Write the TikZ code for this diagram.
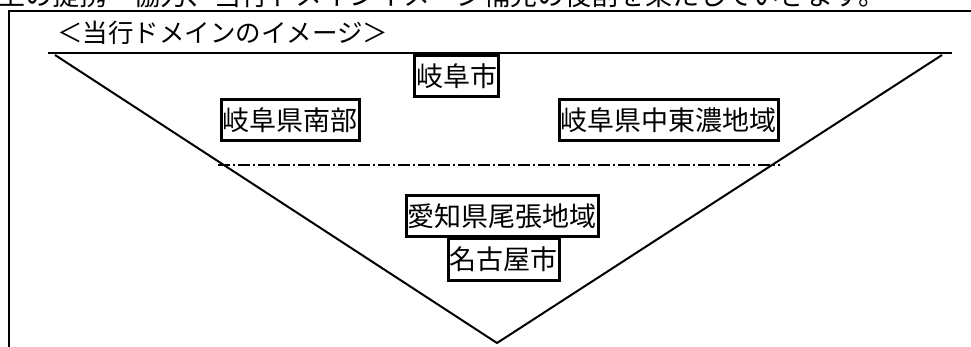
\documentclass[tikz,border=0pt]{standalone}
\usepackage{fontspec}
\setmainfont{Noto Sans CJK JP}
\begin{document}
\begin{tikzpicture}[x=1pt,y=-1pt,
  boxnode/.style={draw,line width=3pt,inner xsep=1.5pt,inner ysep=0pt,minimum height=41pt,font=\fontsize{27}{27}\selectfont},
  thinline/.style={line width=2pt},
  dashdot/.style={line width=2pt,dash pattern=on 12pt off 3pt on 2pt off 3pt}]
\useasboundingbox (0,0) rectangle (971,347);
\clip (0,0) rectangle (971,347);
% cut-off sentence above the frame
\node[anchor=base west,inner sep=0pt,font=\fontsize{27}{27}\selectfont] (sent) at (-2,6) {上の提携・協力、当行ドメインイメージ補完の役割を果たしていきます。};
% frame
\coordinate (ftl) at (9,11);
\coordinate (ftr) at (975,11);
\coordinate (fbl) at (9,350);
\draw[thinline] (ftr) -- (ftl) -- (fbl);
% title
\node[anchor=base west,inner sep=0pt,font=\fontsize{25.5}{25.5}\selectfont] (title) at (57,43) {＜当行ドメインのイメージ＞};
\coordinate (tl) at (48,53);
\coordinate (tr) at (952,53);
\draw[thinline] (tl) -- (tr);
% triangle
\coordinate (a) at (55,55);
\coordinate (b) at (942,55);
\coordinate (c) at (497,343);
\draw[thinline] (a) -- (c) -- (b);
% dash-dot divider
\coordinate (dl) at (218,165);
\coordinate (dr) at (780,165);
\draw[dashdot] (dl) -- (dr);
% boxes
\node[boxnode] (gifu) at (456.5,76.5) {岐阜市};
\node[boxnode] (gnan) at (290,120.5) {岐阜県南部};
\node[boxnode] (gchu) at (668.5,120.5) {岐阜県中東濃地域};
\node[boxnode] (aichi) at (502,216) {愛知県尾張地域};
\node[boxnode] (nagoya) at (503.5,259.5) {名古屋市};
\end{tikzpicture}
\end{document}
